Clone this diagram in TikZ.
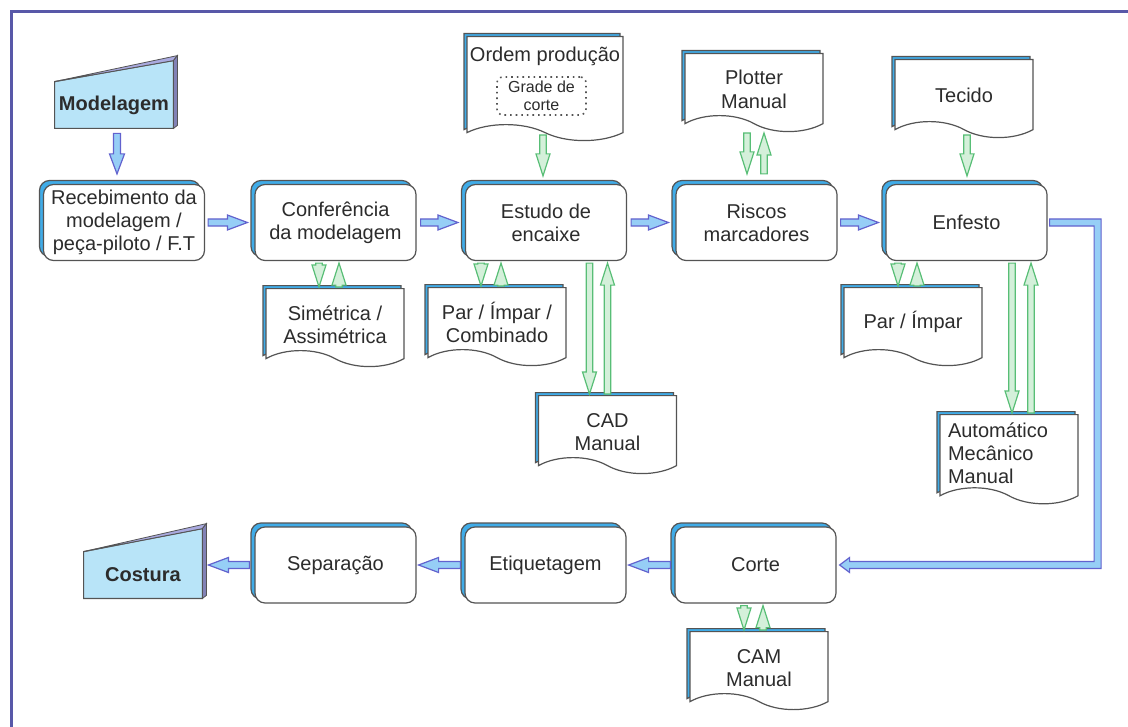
\documentclass[tikz,border=0pt]{standalone}
\usepackage{fontspec}
\setmainfont{Liberation Sans}
\usetikzlibrary{calc}
\usetikzlibrary{shapes.symbols}
\usetikzlibrary{shadows}
\usetikzlibrary{backgrounds}

\definecolor{framecol}{RGB}{88,88,168}
\definecolor{shadowblue}{RGB}{64,172,232}
\definecolor{termfill}{RGB}{184,228,248}
\definecolor{termtop}{RGB}{170,170,224}
\definecolor{termside}{RGB}{130,130,182}
\definecolor{arrowfill}{RGB}{150,206,246}
\definecolor{arrowline}{RGB}{98,98,206}
\definecolor{greenfill}{RGB}{212,240,218}
\definecolor{greenline}{RGB}{88,190,118}
\definecolor{boxline}{RGB}{84,84,84}
\definecolor{txt}{RGB}{44,44,44}

\newcommand{\docstrut}{\rule{0pt}{12pt}}

\begin{document}
\begin{tikzpicture}[x=0.5pt,y=-0.5pt]
  \fontsize{10}{11.5}\selectfont
  \useasboundingbox (0,0) rectangle (1128,727);
  \draw[framecol,line width=1.5pt] (11,727) |- (1128,12);

  \tikzset{blockarrow/.style n args={3}{to path={let \p1=(\tikztostart), \p2=(\tikztotarget),
      \n1={atan2(\y2-\y1,\x2-\x1)}, \n2={veclen(\x2-\x1,\y2-\y1)} in
      {[shift={(\p1)},rotate=\n1] (0,#1) -- ({\n2-#3},#1) -- ({\n2-#3},#2) -- (\n2,0)
        -- ({\n2-#3},-#2) -- ({\n2-#3},-#1) -- (0,-#1) -- cycle}}}}
  \tikzstyle{every node}=[text=txt]
  \tikzstyle{process}=[rectangle,rounded corners=5pt,draw=boxline,fill=white,line width=0.6pt,
    minimum width=80.5pt,minimum height=38pt,inner sep=2pt,align=center,
    copy shadow={shadow xshift=-2pt,shadow yshift=2pt,fill=shadowblue,draw=boxline}]
  \tikzstyle{document}=[tape,tape bend top=none,tape bend bottom=out and in,tape bend height=8pt,
    draw=boxline,fill=white,line width=0.6pt,minimum width=69pt,minimum height=39pt,
    inner sep=2pt,align=center,anchor=north,
    copy shadow={shadow xshift=-1.5pt,shadow yshift=1.5pt,fill=shadowblue,draw=boxline}]
  \tikzstyle{terminal}=[minimum width=59pt,minimum height=23pt,inner sep=0pt,font=\bfseries]
  \tikzstyle{bluearrow}=[blockarrow={3.5}{7.5}{10},draw=arrowline,fill=arrowfill,line width=0.6pt]
  \tikzstyle{greenarrow}=[blockarrow={3.2}{7}{11},draw=greenline,fill=greenfill,line width=0.6pt]

%% main flow
  \node[terminal] (mod)      at (114,105)   {Modelagem};
  \node[process]  (receb)    at (124,222.5) {Recebimento da\\modelagem /\\peça-piloto / F.T};
  \node[process]  (confer)   at (335.5,222.5) {Conferência\\da modelagem};
  \node[process]  (estudo)   at (546,222.5) {Estudo de\\encaixe};
  \node[process]  (riscos)   at (756.5,222.5) {Riscos\\marcadores};
  \node[process]  (enfesto)  at (966.5,222.5) {Enfesto};
  \node[process]  (corte)    at (755.5,565) {Corte};
  \node[process]  (etiqueta) at (545.5,565) {Etiquetagem};
  \node[process]  (separ)    at (335.5,565) {Separação};
  \node[terminal] (costura)  at (143,575) {Costura};

%% documents
  \node[document] (simetrica)  at (335,288)   {\docstrut Simétrica /\\Assimétrica};
  \node[document] (parimpar)   at (497,287)   {\docstrut Par / Ímpar /\\Combinado};
  \node[document] (cad)        at (607.5,395) {\docstrut CAD\\Manual};
  \node[document,minimum width=78pt,minimum height=52pt] (ordem) at (545,36) {};
  \node (ordemtxt) at ($(ordem.north)+(0,20)$) {Ordem produção};
  \node[draw=boxline,dotted,thick,rounded corners=3pt,minimum width=44.5pt,minimum height=19pt,
    inner sep=1pt,align=center,font=\fontsize{8}{9}\selectfont] (grade) at ($(ordem.north)+(-3.5,60)$) {Grade de\\corte};
  \node[document] (plotter)    at (754,53)    {\docstrut Plotter\\Manual};
  \node[document] (tecido)     at (964,59)    {\docstrut Tecido};
  \node[document] (parimparb)  at (913,287)   {\docstrut Par / Ímpar};
  \node[document,minimum height=43pt,text width=61pt,inner xsep=4pt,align=left] (automatico) at (1009,414)
    {\rule{0pt}{9.5pt}Automático\\Mecânico\\Manual};
  \node[document] (cam)        at (759,631)   {\docstrut CAM\\Manual};

%% terminal shapes
  \begin{scope}[on background layer]
    \foreach \t/\rise in {mod/21, costura/23} {
      \filldraw[draw=boxline,fill=termfill,line width=0.6pt] (\t.south west) -- (\t.north west)
        -- ($(\t.north east)+(0,-\rise)$) -- (\t.south east) -- cycle;
      \filldraw[draw=boxline,fill=termtop,line width=0.4pt] (\t.north west)
        -- ($(\t.north east)+(4,-\rise-5)$) -- ($(\t.north east)+(0,-\rise)$) -- cycle;
      \filldraw[draw=boxline,fill=termside,line width=0.4pt] ($(\t.north east)+(0,-\rise)$)
        -- ($(\t.north east)+(4,-\rise-5)$) -- ($(\t.south east)+(4,-3)$) -- (\t.south east) -- cycle;
    }
  \end{scope}

%% blue connections
  \draw[bluearrow] ($(mod.south)+(3,5)$) to ($(mod.south |- receb.north)+(3,-10)$);
  \draw[bluearrow] ($(receb.east)+(3,0)$) to ($(confer.west)+(-7,0)$);
  \draw[bluearrow] ($(confer.east)+(4,0)$) to ($(estudo.west)+(-7,0)$);
  \draw[bluearrow] ($(estudo.east)+(4,0)$) to ($(riscos.west)+(-7,0)$);
  \draw[bluearrow] ($(riscos.east)+(3,0)$) to ($(enfesto.west)+(-7,0)$);
  \coordinate (elbow) at ($(enfesto.east)+(50,0)$);
  \filldraw[draw=arrowline,fill=arrowfill,line width=0.6pt]
    ($(enfesto.east)+(2,-3.5)$) -- ($(elbow)+(3.5,-3.5)$) -- ($(elbow |- corte.east)+(3.5,3.5)$)
    -- ($(corte.east)+(13,3.5)$) -- ($(corte.east)+(13,7.5)$) -- ($(corte.east)+(3,0)$)
    -- ($(corte.east)+(13,-7.5)$) -- ($(corte.east)+(13,-3.5)$) -- ($(elbow |- corte.east)+(-3.5,-3.5)$)
    -- ($(elbow)+(-3.5,3.5)$) -- ($(enfesto.east)+(2,3.5)$) -- cycle;
  \draw[bluearrow] ($(corte.west)+(-4,0)$) to ($(etiqueta.east)+(2,0)$);
  \draw[bluearrow] ($(etiqueta.west)+(-4,0)$) to ($(separ.east)+(2,0)$);
  \draw[bluearrow] ($(separ.west)+(-5,0)$) to ($(costura.east |- separ.west)+(6,0)$);

%% green connections
  \draw[greenarrow] ($(ordem.north)+(-2,99)$) to ($(estudo.north)+(-3,-8)$);
  \draw[greenarrow] ($(tecido.north)+(3,76)$) to ($(tecido.north |- enfesto.north)+(3,-8)$);
  \draw[greenarrow] ($(plotter.north)+(-7,80)$) to ($(plotter.north |- riscos.north)+(-7,-10)$);
  \draw[greenarrow] ($(plotter.north |- riscos.north)+(10,-10)$) to ($(plotter.north)+(10,80)$);
  \foreach \proc/\docu/\dd/\uu in {confer/simetrica/-16/4, estudo/parimpar/-16/4, enfesto/parimparb/-15/4,
                                   corte/cam/-15/4, estudo/cad/-18/0, enfesto/automatico/3/22} {
    \draw[greenarrow] ($(\docu.north |- \proc.south)+(\dd,2)$) to ($(\docu.north)+(\dd,-1)$);
    \draw[greenarrow] ($(\docu.north)+(\uu,-1)$) to ($(\docu.north |- \proc.south)+(\uu,2)$);
  }
\end{tikzpicture}
\end{document}
